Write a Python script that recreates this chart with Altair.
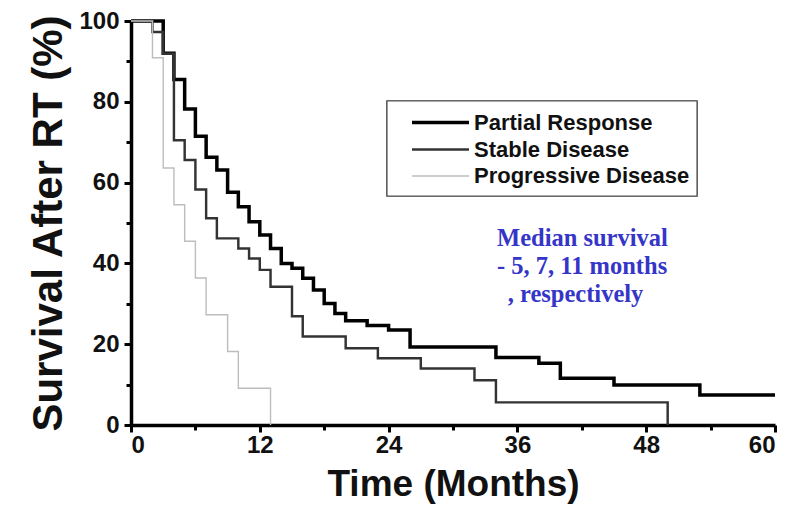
import altair as alt
import pandas as pd

# ---- data ----
groups = ["Partial Response", "Stable Disease", "Progressive Disease"]

pr_t = [0, 3, 4, 5, 6, 7, 8, 9, 10, 11, 12, 13, 14, 15, 16, 17, 18, 19, 20, 22, 24, 26, 34, 38, 40, 45, 53, 60]
pr_s = [100, 92, 85.5, 78.2, 71.5, 66.3, 63.1, 57.6, 54, 50.3, 47, 43.7, 40.0, 38.8, 36.3, 33.4, 30.1, 27.6, 25.8,
        24.6, 23.5, 19.3, 16.7, 15.3, 11.6, 9.9, 7.4, 7.4]

sd_t = [0, 2, 3, 4, 5, 6, 7, 8, 10, 11, 12, 13, 15, 16, 20, 23, 27, 32, 34, 50]
sd_s = [100, 97.3, 91.9, 70.5, 65.6, 58.3, 51.2, 46.2, 43.7, 41.2, 38.4, 34.2, 26.9, 21.9, 19.0, 16.5, 14.0, 11.1,
        5.6, 0]

pd_t = [0, 2, 3, 4, 5, 6, 7, 9, 10, 13]
pd_s = [100, 90.9, 63.6, 54.5, 45.5, 36.4, 27.3, 18.2, 9.1, 0]

note_lines = ["Median survival", "- 5, 7, 11 months", ", respectively"]
note_t = [34.1, 34.1, 35.1]
note_s = [44.3, 37.3, 30.4]

x_ticks = [0, 6, 12, 18, 24, 30, 36, 42, 48, 54, 60]
y_ticks = [0, 10, 20, 30, 40, 50, 60, 70, 80, 90, 100]

rows = []
for g, ts, ss in zip(groups, [pr_t, sd_t, pd_t], [pr_s, sd_s, pd_s]):
    for t, s in zip(ts, ss):
        rows.append({"group": g, "t": t, "s": s})
df = pd.DataFrame(rows)
notes = pd.DataFrame({"text": note_lines, "t": note_t, "s": note_s})

FONT = "Liberation Sans"

x_scale = alt.Scale(domain=[0, 60], nice=False, zero=False)
y_scale = alt.Scale(domain=[0, 100], nice=False, zero=False)

legend_cfg = dict(title=None, orient="none", legendX=298, legendY=90,
                  symbolType="M-3,0H3", symbolSize=361, symbolOffset=0,
                  labelFont=FONT, labelFontWeight="bold", labelFontSize=22,
                  labelColor="#111111", labelOffset=22, labelLimit=0,
                  padding=0, rowPadding=4.5)

lines = alt.Chart(df).mark_line(interpolate="step-after", clip=False).encode(
    x=alt.X("t:Q", scale=x_scale, title="Time (Months)",
            axis=alt.Axis(values=x_ticks,
                          labelExpr="datum.value % 12 === 0 ? datum.label : ''",
                          tickSize={"condition": {"test": "datum.value % 12 === 0", "value": 7}, "value": 5},
                          labelPadding=1, titlePadding=9, titleFontSize=37,
                          grid=False)),
    y=alt.Y("s:Q", scale=y_scale, title="Survival After RT (%)",
            axis=alt.Axis(values=y_ticks,
                          labelExpr="datum.value % 20 === 0 ? datum.label : ''",
                          tickSize={"condition": {"test": "datum.value % 20 === 0", "value": 7}, "value": 5},
                          labelPadding=5, titlePadding=8, titleFontSize=42,
                          grid=False)),
    color=alt.Color("group:N", sort=groups,
                    scale=alt.Scale(domain=groups, range=["#000000", "#333333", "#bdbdbd"]),
                    legend=alt.Legend(**legend_cfg)),
    strokeWidth=alt.StrokeWidth("group:N", sort=groups,
                                scale=alt.Scale(domain=groups, range=[3.5, 1.4, 2.2]),
                                legend=alt.Legend(**legend_cfg)),
    detail="group:N",
)

legend_box = alt.Chart(notes).mark_rect(fill="white", stroke="#555555", strokeWidth=1.2).encode(
    x=alt.value(256), x2=alt.value(566), y=alt.value(80), y2=alt.value(175),
)

text = alt.Chart(notes).mark_text(align="left", baseline="alphabetic", font="Liberation Serif",
                                  fontWeight="bold", fontSize=24.5, color="#3535c8").encode(
    x=alt.X("t:Q", scale=x_scale),
    y=alt.Y("s:Q", scale=y_scale),
    text="text:N",
)

chart = alt.layer(legend_box, lines, text).properties(
    width=644, height=404,
    autosize=alt.AutoSizeParams(type="none"),
    padding={"left": 123, "top": 13, "right": 20, "bottom": 86},
).configure_view(stroke=None).configure_axis(
    domainColor="black", domainWidth=3.5, tickColor="black", tickWidth=3,
    labelFont=FONT, labelFontWeight="bold", labelFontSize=24, labelColor="#111111",
    titleFont=FONT, titleFontWeight="bold", titleColor="#111111",
)

chart.save("out.html", embed_options={"renderer": "svg", "actions": False})
